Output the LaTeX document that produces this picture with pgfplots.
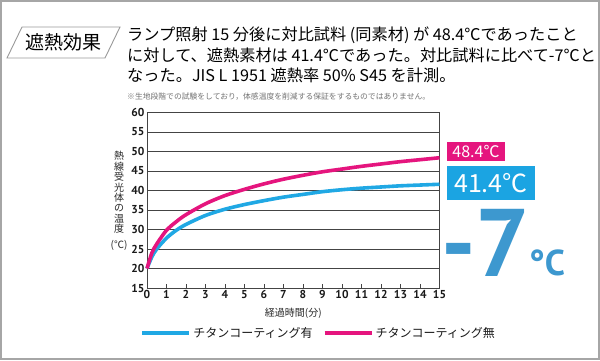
\documentclass[border=0pt]{standalone}
\usepackage{pgfplots}
\pgfplotsset{compat=1.18}
\usepackage{fontspec}
\setmainfont{Noto Sans CJK JP}
\newfontfamily\tickfont{PT Sans}
\definecolor{pinkc}{HTML}{E5157E}
\definecolor{bluec}{HTML}{20A8E4}
\definecolor{boxblue}{HTML}{1BA4E2}
\definecolor{bigblue}{HTML}{3D98CF}
\definecolor{gridc}{HTML}{444444}
\begin{document}
\begin{tikzpicture}[x=1pt,y=1pt]
\useasboundingbox (0,0) rectangle (600,360);
\fill[white] (0,0) rectangle (600,360);
\draw[gray!70, line width=2pt] (1,1) rectangle (599,359);
% title box
\draw[gray!80, line width=0.9pt] (7,302) -- (22,333) -- (120,333) -- (105,302) -- cycle;
\node[font=\fontsize{19}{19}\selectfont] at (63,317.5) {遮熱効果};
% text
\node[anchor=west, inner sep=0, font=\fontsize{16.2}{16}\selectfont] at (127,325) {ランプ照射 15 分後に対比試料 (同素材) が 48.4℃であったこと};
\node[anchor=west, inner sep=0, font=\fontsize{16.2}{16}\selectfont] at (127,305) {に対して、遮熱素材は 41.4℃であった。対比試料に比べて-7℃と};
\node[anchor=west, inner sep=0, font=\fontsize{16.2}{16}\selectfont] at (127,285) {なった。JIS L 1951 遮熱率 50\% S45 を計測。};
\node[anchor=west, inner sep=0, font=\fontsize{7.8}{8}\selectfont, text=gray!90!black] at (127,263) {※生地段階での試験をしており，体感温度を削減する保証をするものではありません。};
% y label
\foreach \c [count=\i from 0] in {熱,線,受,光,体,の,温,度} {
  \node[inner sep=0, font=\fontsize{10}{10}\selectfont, text=gray!30!black] at (119,{204-\i*10.4}) {\c};
}
\node[inner sep=0, font=\fontsize{10}{10}\selectfont, text=gray!30!black] at (119,115) {(℃)};
\begin{axis}[
  at={(147pt,72pt)}, anchor=south west,
  scale only axis, width=292.5pt, height=175.5pt,
  xmin=0, xmax=15, ymin=15, ymax=60,
  xtick={0,...,15}, ytick={15,20,...,60},
  ymajorgrids, grid style={gridc, line width=0.9pt},
  axis line style={gridc, line width=1pt},
  xtick pos=bottom, ytick pos=left,
  major tick length=4pt,
  xtick style={gridc, line width=0.8pt},
  ytick style={draw=none},
  tick align=inside,
  /pgf/number format/assume math mode=true,
  ticklabel style={font=\tickfont\bfseries\fontsize{11.5}{12}\selectfont, text=gray!20!black},
  yticklabel style={xshift=1pt},
  xticklabel style={yshift=1pt},
  xlabel={経過時間(分)},
  xlabel style={font=\fontsize{10}{10}\selectfont, text=gray!30!black, at={(axis description cs:0.5,-0.142)}, anchor=center},
  legend columns=2,
  legend style={draw=none, fill=none, at={(-0.034,-0.255)}, anchor=west,
    font=\fontsize{12}{13}\selectfont, text=gray!20!black,
    /tikz/every even column/.append style={column sep=8pt}},
  legend image code/.code={\draw[#1, line width=4pt] (0pt,0pt) -- (47pt,0pt);},
  clip=false,
]
\addplot[bluec, line width=3.6pt, smooth] coordinates {
(0,20) (0.25,23) (0.5,25) (1,27.8) (1.5,29.8) (2,31.3) (3,33.6) (4,35.2) (5,36.4) (6,37.4) (7,38.3) (8,39) (9,39.7) (10,40.2) (11,40.6) (12,40.9) (13,41.2) (14,41.4) (15,41.6)};
\addlegendentry{チタンコーティング有}
\addplot[pinkc, line width=3.6pt, smooth] coordinates {
(0,20) (0.25,24) (0.5,26.3) (1,29.8) (1.5,32) (2,33.8) (3,36.6) (4,38.7) (5,40.3) (6,41.7) (7,42.9) (8,43.9) (9,44.8) (10,45.5) (11,46.2) (12,46.8) (13,47.4) (14,47.9) (15,48.4)};
\addlegendentry{チタンコーティング無}
\end{axis}
% right labels
\fill[pinkc] (447,199) rectangle (505,218);
\node[text=white, inner sep=0, font=\fontsize{16}{16}\selectfont] at (476,208.5) {48.4℃};
\fill[boxblue] (447,160) rectangle (535,194);
\node[text=white, inner sep=0, font=\fontsize{25}{25}\selectfont] at (491,177) {41.4℃};
\node[text=bigblue, inner sep=0, anchor=base west, font=\tickfont\bfseries\fontsize{96}{96}\selectfont] at (441,84) {-7};
\node[text=bigblue, inner sep=0, anchor=base west, font=\tickfont\bfseries\fontsize{36}{36}\selectfont] at (529,85) {°C};
\end{tikzpicture}
\end{document}
